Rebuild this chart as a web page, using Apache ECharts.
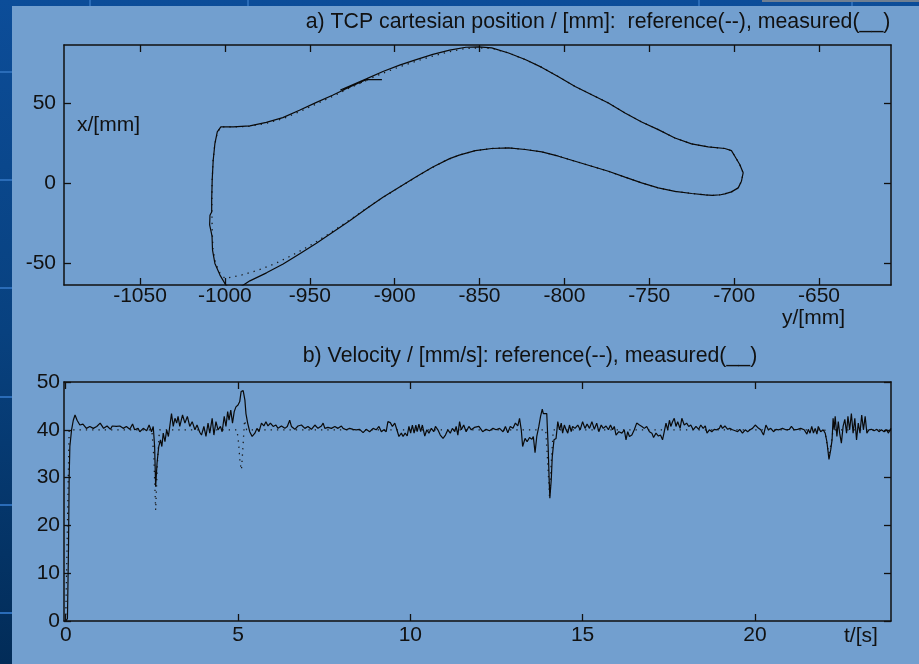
<!DOCTYPE html>
<html>
<head>
<meta charset="utf-8">
<script src="https://cdn.jsdelivr.net/npm/echarts@6/dist/echarts.min.js"></script>
<style>
html,body{margin:0;padding:0;width:919px;height:664px;overflow:hidden;background:linear-gradient(180deg,#0c4d99 0%,#08417f 50%,#022c58 100%);}
#panel{position:absolute;left:12px;top:6px;width:907px;height:658px;background:#729fcf;}
.hl{position:absolute;left:0;width:12px;height:2px;background:#2a6cb8;}
.vl{position:absolute;top:0;width:2px;height:6px;background:#2a6cb8;}
#gray{position:absolute;left:762px;top:0;width:157px;height:2px;background:#6f7f92;}
#chart{position:absolute;left:0;top:0;width:919px;height:664px;}
</style>
</head>
<body>
<div class="hl" style="top:71px"></div>
<div class="hl" style="top:179px"></div>
<div class="hl" style="top:287px"></div>
<div class="hl" style="top:396px"></div>
<div class="hl" style="top:504px"></div>
<div class="hl" style="top:612px"></div>
<div class="vl" style="left:89px"></div>
<div class="vl" style="left:247px"></div>
<div class="vl" style="left:698px"></div>
<div class="vl" style="left:851px"></div>
<div id="gray"></div>
<div id="panel"></div>
<div id="chart"></div>
<script>
// ---------- Panel a) TCP cartesian position ----------
const posTicksH = [-1050, -1000, -950, -900, -850, -800, -750, -700, -650];
const posTicksV = [-50, 0, 50];

// measured path: horizontal = y/[mm], vertical = x/[mm]
const measPosY = [-907.5, -916.5, -926.8, -936.6, -946.4, -956.1, -965.9, -975.6, -985.3, -995.1, -1002.4,
  -1004.5, -1005.9, -1006.9, -1007.5, -1007.8, -1007.8, -1008.8, -1009.0, -1008.2, -1007.6, -1007.3, -1005.9, -1002.9, -999.5, -997.0, -993.5, -990.5,
  -985.3, -975.5, -965.7, -955.9, -946.1, -936.3, -926.5, -916.7, -906.9, -897.1, -887.3, -877.5, -867.6, -862.0, -852.5, -842.8, -832.9, -823.1, -813.3, -803.5, -793.7, -783.9, -774.1, -764.3, -754.5, -744.7, -734.9, -725.0, -717.0, -712.8, -708.0, -705.5, -701.6, -697.6, -695.7, -694.7, -696.7, -699.6, -701.6, -705.5, -715.3, -725.1, -734.9, -744.7, -754.5, -764.3, -774.1, -783.9, -793.7, -803.5, -813.3, -823.1, -832.9, -842.8, -850.6, -858.0, -867.6, -877.5, -887.3, -897.1, -906.9, -916.7, -926.5, -932.0];
const measPosX = [64.8, 64.8, 60.0, 55.0, 50.4, 45.6, 41.0, 38.0, 35.8, 35.2, 35.2,
  32.1, 24.8, 14.4, 1.9, -10.6, -18.0, -20.0, -26.0, -30.0, -33.0, -41.8, -50.1, -57.4, -63.6, -65.8, -66.3, -64.6,
  -61.0, -56.0, -50.5, -44.0, -37.5, -30.5, -23.5, -16.0, -8.8, -2.3, 4.0, 10.2, 15.4, 17.6, 20.4, 21.7, 22.1, 21.1, 19.6, 16.9, 13.75, 10.6, 7.5, 3.8, 0.2, -2.9, -5.1, -6.4, -7.3, -7.6, -7.2, -6.6, -5.4, -2.9, 1.3, 6.5, 11.7, 16.9, 20.4, 21.7, 22.7, 24.6, 28.3, 33.5, 38.3, 43.9, 50.2, 55.3, 60.5, 66.6, 72.4, 77.3, 81.4, 84.6, 85.2, 85.0, 83.2, 80.5, 77.3, 73.8, 69.8, 65.2, 60.8, 58.3];

// reference path
const refPosY = [-916.7, -926.5, -936.3, -946.1, -955.9, -965.7, -975.5, -985.3, -995.1, -1002.4,
  -1004.5, -1006.0, -1007.0, -1007.6, -1007.7, -1007.5, -1007.0, -1005.5, -1003.0, -1000.0,
  -990.0, -980.0, -970.0, -960.0, -950.0, -940.0, -930.0, -920.0, -910.0, -900.0, -890.0, -880.0, -870.0, -862.0, -852.5, -842.8, -832.9, -823.1, -813.3, -803.5, -793.7, -783.9, -774.1, -764.3, -754.5, -744.7, -734.9, -725.0, -717.0, -712.8, -708.0, -705.5, -701.6, -697.6, -695.7, -694.7, -696.7, -699.6, -701.6, -705.5, -715.3, -725.1, -734.9, -744.7, -754.5, -764.3, -774.1, -783.9, -793.7, -803.5, -813.3, -823.1, -832.9, -842.8, -850.6, -858.0, -867.6, -877.5, -887.3, -897.1, -906.9, -916.7, -926.5, -932.0];
const refPosX = [64.2, 59.6, 54.4, 49.6, 44.8, 40.4, 37.5, 35.6, 35.2, 35.2,
  31.5, 24.0, 14.0, 0.0, -15.0, -30.0, -42.0, -50.0, -56.0, -59.5,
  -57.3, -54.2, -50.0, -44.8, -39.0, -32.5, -25.5, -18.2, -11.0, -4.3, 2.2, 8.5, 14.2, 17.6, 20.4, 21.7, 22.1, 21.1, 19.6, 16.9, 13.75, 10.6, 7.5, 3.8, 0.2, -2.9, -5.1, -6.4, -7.3, -7.6, -7.2, -6.6, -5.4, -2.9, 1.3, 6.5, 11.7, 16.9, 20.4, 21.7, 22.7, 24.6, 28.3, 33.5, 38.3, 43.9, 50.2, 55.3, 60.5, 66.6, 72.4, 77.3, 81.4, 84.3, 84.6, 84.2, 82.3, 79.5, 76.3, 72.8, 68.8, 64.4, 60.0, 57.6];

// ---------- Panel b) Velocity ----------
const velTicksT = [0, 5, 10, 15, 20];

const measVelT = [0, 0.05, 0.08, 0.1, 0.12, 0.17, 0.22, 0.27, 0.33, 0.41, 0.5, 0.6, 0.7, 0.8, 0.9, 1.0, 1.1, 1.2, 1.3, 1.35, 1.47, 1.57, 1.67, 1.76, 1.86, 1.94, 2.0, 2.1, 2.15, 2.25, 2.35, 2.42, 2.49, 2.54, 2.58, 2.61, 2.65, 2.7, 2.75, 2.79, 2.83, 2.88, 2.93, 2.98, 3.02, 3.07, 3.12, 3.17, 3.22, 3.26, 3.31, 3.39, 3.46, 3.53, 3.6, 3.67, 3.75, 3.81, 3.89, 3.94, 4.01, 4.07, 4.13, 4.18, 4.25, 4.3, 4.36, 4.42, 4.49, 4.54, 4.6, 4.65, 4.7, 4.74, 4.79, 4.84, 4.89, 4.94, 5.0, 5.05, 5.09, 5.15, 5.2, 5.23, 5.28, 5.34, 5.41, 5.49, 5.55, 5.61, 5.68, 5.75, 5.81, 5.87, 5.94, 6.02, 6.1, 6.16, 6.26, 6.36, 6.43, 6.5, 6.55, 6.65, 6.74, 6.84, 6.94, 7.03, 7.13, 7.23, 7.32, 7.42, 7.47, 7.52, 7.61, 7.71, 7.81, 7.9, 8.0, 8.05, 8.14, 8.24, 8.34, 8.43, 8.53, 8.63, 8.72, 8.82, 8.92, 9.01, 9.09, 9.16, 9.23, 9.3, 9.35, 9.42, 9.48, 9.55, 9.61, 9.67, 9.74, 9.79, 9.85, 9.91, 9.96, 10.01, 10.06, 10.11, 10.16, 10.2, 10.25, 10.3, 10.35, 10.42, 10.48, 10.54, 10.61, 10.68, 10.73, 10.8, 10.87, 10.95, 11.02, 11.09, 11.16, 11.22, 11.29, 11.33, 11.38, 11.43, 11.48, 11.55, 11.62, 11.7, 11.77, 11.86, 11.99, 12.1, 12.2, 12.3, 12.4, 12.49, 12.59, 12.69, 12.76, 12.83, 12.9, 12.98, 13.05, 13.12, 13.17, 13.22, 13.26, 13.33, 13.39, 13.46, 13.53, 13.57, 13.62, 13.67, 13.73, 13.78, 13.83, 13.86, 13.91, 13.96, 14.0, 14.03, 14.05, 14.09, 14.12, 14.17, 14.23, 14.28, 14.33, 14.38, 14.42, 14.47, 14.52, 14.57, 14.62, 14.67, 14.71, 14.78, 14.86, 14.93, 15.0, 15.07, 15.13, 15.2, 15.27, 15.34, 15.41, 15.47, 15.54, 15.6, 15.68, 15.75, 15.81, 15.87, 15.92, 15.97, 16.05, 16.14, 16.21, 16.26, 16.31, 16.36, 16.43, 16.5, 16.57, 16.65, 16.72, 16.79, 16.86, 16.94, 17.01, 17.06, 17.13, 17.2, 17.26, 17.32, 17.37, 17.42, 17.47, 17.52, 17.56, 17.61, 17.66, 17.71, 17.76, 17.83, 17.88, 17.95, 18.02, 18.08, 18.14, 18.21, 18.29, 18.37, 18.43, 18.5, 18.56, 18.61, 18.68, 18.75, 18.82, 18.89, 18.97, 19.01, 19.06, 19.13, 19.21, 19.27, 19.35, 19.43, 19.5, 19.56, 19.64, 19.72, 19.79, 19.86, 19.93, 20.01, 20.08, 20.17, 20.25, 20.32, 20.39, 20.46, 20.54, 20.61, 20.7, 20.8, 20.9, 21.0, 21.06, 21.14, 21.24, 21.33, 21.43, 21.51, 21.55, 21.6, 21.65, 21.7, 21.75, 21.8, 21.84, 21.91, 21.98, 22.04, 22.09, 22.15, 22.2, 22.24, 22.27, 22.3, 22.33, 22.38, 22.42, 22.46, 22.51, 22.56, 22.61, 22.66, 22.7, 22.75, 22.8, 22.85, 22.9, 22.95, 23.0, 23.05, 23.1, 23.15, 23.2, 23.25, 23.31, 23.38, 23.46, 23.54, 23.6, 23.67, 23.75, 23.83, 23.87, 23.95];
const measVelV = [0, 0.5, 15, 30, 36.5, 40, 42, 43.1, 42, 41, 41.2, 40.3, 40.7, 40.3, 40.7, 41.4, 40.3, 40.8, 40.1, 40.8, 40.7, 40.8, 40.3, 40.7, 40.1, 41.2, 40, 40.3, 39.6, 40.3, 39.8, 41, 39.6, 40.7, 36.5, 28.1, 33, 36.5, 37.9, 36.5, 39.3, 37.5, 40, 38.6, 40.7, 43.4, 40.7, 42.4, 41.4, 42.8, 40.7, 43.1, 41.4, 42.8, 40.7, 41.7, 40, 41, 39.5, 38.9, 40.7, 38.6, 41.4, 39.3, 42.4, 38.9, 41.7, 40, 40.7, 39.6, 42.8, 40.7, 43.8, 42, 44.1, 41.4, 43.8, 44.8, 45.2, 45.9, 48, 48.2, 46.2, 43.4, 41.4, 39.6, 38.6, 39.3, 40.3, 39.6, 41.4, 40.8, 41.7, 40.8, 41.4, 40.7, 41, 40.3, 40.8, 40.3, 40.7, 42, 40.7, 40.1, 40.8, 41, 40.3, 40.7, 40.1, 41, 40.3, 40.8, 41.4, 40.3, 40.5, 40.3, 40.7, 40.3, 40.8, 40.3, 40, 40.3, 40.1, 40, 40.1, 39.4, 40.1, 39.6, 40.3, 40, 40.7, 39.6, 40, 39.6, 41.7, 41.5, 40.7, 41.4, 40, 38.6, 39.3, 38.6, 39.3, 38.7, 40.7, 39.3, 41, 39.3, 41, 39.6, 41.2, 39.6, 41, 38.7, 40, 39.3, 40.3, 39.6, 40.7, 40, 38.9, 38.2, 38.9, 40, 39.3, 40.3, 39.6, 40.7, 38.9, 41.7, 40, 41, 39.6, 40.7, 40, 40.5, 40.7, 39.6, 40.1, 39.8, 40.3, 40, 40.3, 39.6, 40.7, 39.4, 40.7, 40.3, 41.4, 40.8, 42.4, 40, 36.5, 38.2, 37.5, 38.4, 38, 38.6, 35.2, 38.6, 40.7, 42.8, 44.3, 43.4, 43.6, 43.4, 36.5, 29.5, 25.7, 29.5, 34.4, 37.9, 38.2, 41.7, 40, 41.4, 39.3, 41, 40, 39.3, 41, 39.6, 40.7, 40.3, 41, 40, 41.7, 40.3, 41.2, 40.3, 41.7, 40.1, 41.4, 39.6, 41, 40.3, 40.8, 40, 41, 40, 40.7, 38.9, 39.6, 39.3, 40, 37.9, 39.6, 38.6, 38.9, 40, 41.4, 41, 40.7, 40.3, 40.7, 39.6, 39.3, 38.4, 39.3, 38.7, 38.9, 37.9, 39.6, 41.4, 40, 42, 40.7, 41.7, 42.4, 40.7, 41.7, 40.3, 42.4, 41, 41.4, 40.7, 41, 40, 40.7, 40.1, 41, 40.3, 40.8, 39.3, 40, 39.6, 40.1, 40, 40.3, 41, 40.3, 40.8, 40.1, 40.3, 40, 39.8, 39.6, 40.1, 39.3, 40, 39.6, 40, 40.3, 41, 40.5, 40, 38.9, 41, 40, 40.3, 39.6, 40.1, 40, 40.3, 40, 40.1, 40.7, 40, 40.1, 40.3, 40, 39.1, 40.1, 39.3, 40.7, 39.3, 40.3, 39.1, 40.7, 39.6, 40, 39.3, 37.5, 33.8, 35.8, 37.9, 42.4, 40, 42.8, 38.6, 41.7, 39.3, 37.2, 40.7, 42.2, 39.3, 42.8, 40, 43.4, 39.3, 42.4, 37.9, 41.4, 39.3, 43.1, 40, 42.8, 39.3, 40, 40.1, 39.8, 40.1, 39.6, 40, 39.6, 40, 39.3, 40.3];

const refVelT = [0, 0.03, 0.1, 2.5, 2.56, 2.61, 2.66, 2.72, 4.97, 5.02, 5.06, 5.1, 5.14, 5.19, 5.25, 13.93, 13.99, 14.04, 14.09, 14.15, 22.03, 22.09, 22.15, 22.21, 22.27, 23.95];
const refVelV = [0, 0, 40, 40, 34, 23.2, 33, 40, 40, 37, 33, 31.6, 36, 42, 40, 40, 33, 26, 33, 40, 40, 37, 35, 37, 40, 40];

const FONT = 'Liberation Sans, Arial, Helvetica, sans-serif';
const INK = '#111111';
const axisLineStyle = {color: INK, width: 1.5};
const plainNum = v => String(v);

function zip(a, b) { return a.map((v, i) => [v, b[i]]); }

function xAx(grid, pos, min, max, ticks, showLabel, margin) {
  return {
    gridIndex: grid, type: 'value', position: pos, min: min, max: max,
    axisLine: {show: true, onZero: false, lineStyle: axisLineStyle},
    axisTick: {show: true, inside: true, length: 7, customValues: ticks, lineStyle: {color: INK, width: 1.3}},
    axisLabel: {show: showLabel, customValues: ticks, formatter: plainNum, fontSize: 21, fontFamily: FONT, color: INK, margin: margin},
    splitLine: {show: false}
  };
}
function yAx(grid, pos, min, max, ticks, interval, showLabel, margin) {
  const a = {
    gridIndex: grid, type: 'value', position: pos, min: min, max: max,
    axisLine: {show: true, onZero: false, lineStyle: axisLineStyle},
    axisTick: {show: true, inside: true, length: 7, lineStyle: {color: INK, width: 1.3}},
    axisLabel: {show: showLabel, formatter: plainNum, fontSize: 21, fontFamily: FONT, color: INK, margin: margin},
    splitLine: {show: false}
  };
  if (ticks) { a.axisTick.customValues = ticks; a.axisLabel.customValues = ticks; }
  if (interval) a.interval = interval;
  return a;
}

const chart = echarts.init(document.getElementById('chart'), null, {renderer: 'canvas'});
chart.setOption({
  animation: false,
  backgroundColor: 'transparent',
  grid: [
    {left: 64, top: 45, width: 827, height: 240, outerBoundsMode: 'none', containLabel: false},
    {left: 64, top: 382, width: 827, height: 239, outerBoundsMode: 'none', containLabel: false}
  ],
  xAxis: [
    xAx(0, 'bottom', -1094.8, -607.6, posTicksH, true, 1),
    xAx(0, 'top', -1094.8, -607.6, posTicksH, false, 4),
    xAx(1, 'bottom', -0.05, 23.95, velTicksT, true, 4),
    xAx(1, 'top', -0.05, 23.95, velTicksT, false, 4)
  ],
  yAxis: [
    yAx(0, 'left', -63.6, 86.4, posTicksV, null, true, 8),
    yAx(0, 'right', -63.6, 86.4, posTicksV, null, false, 4),
    yAx(1, 'left', 0, 50, null, 10, true, 4),
    yAx(1, 'right', 0, 50, null, 10, false, 4)
  ],
  series: [
    {type: 'line', name: 'reference', xAxisIndex: 0, yAxisIndex: 0, data: zip(refPosY, refPosX),
      showSymbol: false, clip: true, lineStyle: {color: '#1a1a1a', width: 1.3, type: [1.3, 5]}},
    {type: 'line', name: 'measured', xAxisIndex: 0, yAxisIndex: 0, data: zip(measPosY, measPosX),
      showSymbol: false, clip: true, lineStyle: {color: '#0a0a0a', width: 1.2}},
    {type: 'line', name: 'reference v', xAxisIndex: 2, yAxisIndex: 2, data: zip(refVelT, refVelV),
      showSymbol: false, clip: true, lineStyle: {color: '#1a1a1a', width: 1.3, type: [1.3, 5]}},
    {type: 'line', name: 'measured v', xAxisIndex: 2, yAxisIndex: 2, data: zip(measVelT, measVelV),
      showSymbol: false, clip: true, lineStyle: {color: '#0a0a0a', width: 1.2}}
  ],
  graphic: [
    {type: 'text', x: 598, y: 22, style: {text: 'a) TCP cartesian position / [mm]:  reference(--), measured(__)', fontSize: 21.3, fontFamily: FONT, fill: INK, align: 'center', verticalAlign: 'middle'}},
    {type: 'text', x: 530, y: 356, style: {text: 'b) Velocity / [mm/s]: reference(--), measured(__)', fontSize: 21.3, fontFamily: FONT, fill: INK, align: 'center', verticalAlign: 'middle'}},
    {type: 'text', x: 77, y: 125, style: {text: 'x/[mm]', fontSize: 21, fontFamily: FONT, fill: INK, align: 'left', verticalAlign: 'middle'}},
    {type: 'text', x: 782, y: 318, style: {text: 'y/[mm]', fontSize: 21, fontFamily: FONT, fill: INK, align: 'left', verticalAlign: 'middle'}},
    {type: 'text', x: 844, y: 636, style: {text: 't/[s]', fontSize: 21, fontFamily: FONT, fill: INK, align: 'left', verticalAlign: 'middle'}}
  ]
});
</script>
</body>
</html>
